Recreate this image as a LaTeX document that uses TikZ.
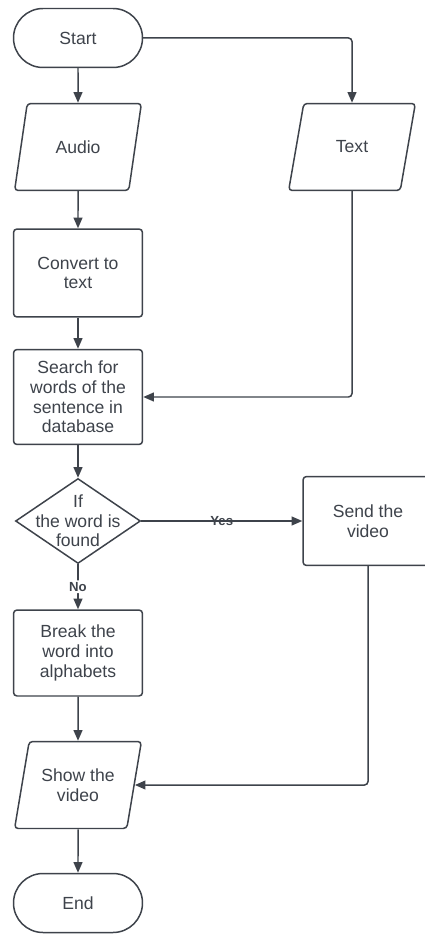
\documentclass[tikz,border=0pt]{standalone}
\usepackage{fontspec}
\setmainfont{Liberation Sans}
\usepackage{xcolor}
\usepackage{tikz}
\usetikzlibrary{shapes.geometric,arrows.meta}
\definecolor{inkgray}{RGB}{62,67,75}

\begin{document}
\begin{tikzpicture}[x=0.02cm, y=-0.02cm,
    every node/.style={font=\fontsize{10}{11.2}\selectfont, text=inkgray, align=center},
    shape line/.style={draw=inkgray, line width=0.85pt, fill=white},
    terminal/.style={shape line, rectangle, rounded corners=0.59cm, minimum width=2.58cm, minimum height=1.18cm},
    process/.style={shape line, rectangle, rounded corners=2pt, minimum width=2.58cm, minimum height=1.76cm},
    io/.style={shape line, trapezium, trapezium left angle=74, trapezium right angle=106,
      trapezium stretches=true, rounded corners=2pt, minimum width=2.54cm, minimum height=1.74cm},
    decision/.style={shape line, diamond, inner sep=0pt, minimum width=2.5cm, minimum height=1.7cm},
    arrow/.style={draw=inkgray, line width=0.85pt, rounded corners=2pt, -{Triangle[length=6pt,width=5pt]}},
    tag/.style={font=\fontsize{7.5}{8}\selectfont\bfseries}]

  % Page frame
  \useasboundingbox (0,0) rectangle (424,935);

  % Left column
  \node[terminal] (start) at (78,38) {Start};
  \node[io] (audio) at (78,147) {Audio};
  \node[process] (convert) at (78,273) {Convert to\\text};
  \node[process, minimum height=1.9cm] (search) at (78,397) {Search for\\words of the\\sentence in\\database};
  \node[decision] (found) at (78,521) {};
  \node (foundtext) at (found) {If\\the word is\\found};
  \node[process, minimum height=1.72cm] (split) at (78,653) {Break the\\word into\\alphabets};
  \node[io] (show) at (78,785) {Show the\\video};
  \node[terminal] (stop) at (78,903) {End};

  % Right column
  \node[io] (text) at (352,147) {Text};
  \node[process, minimum width=2.6cm, minimum height=1.78cm] (send) at (368,521) {Send the\\video};

  % Straight arrows down the left column
  \foreach \a/\b in {start/audio, audio/convert, convert/search, search/found, split/show, show/stop} {
    \draw[arrow] (\a) -- (\b);
  }

  % Branches
  \draw[arrow] (start.east) -| (text.north);
  \draw[arrow] (text.south) |- (search.east);
  \draw[arrow] (found.east) -- node[tag] {Yes} (send.west);
  \draw[arrow] (found.south) -- node[tag, fill=white, inner sep=1pt] {No} (split.north);
  \draw[arrow] (send.south) |- (show.east);
\end{tikzpicture}
\end{document}
